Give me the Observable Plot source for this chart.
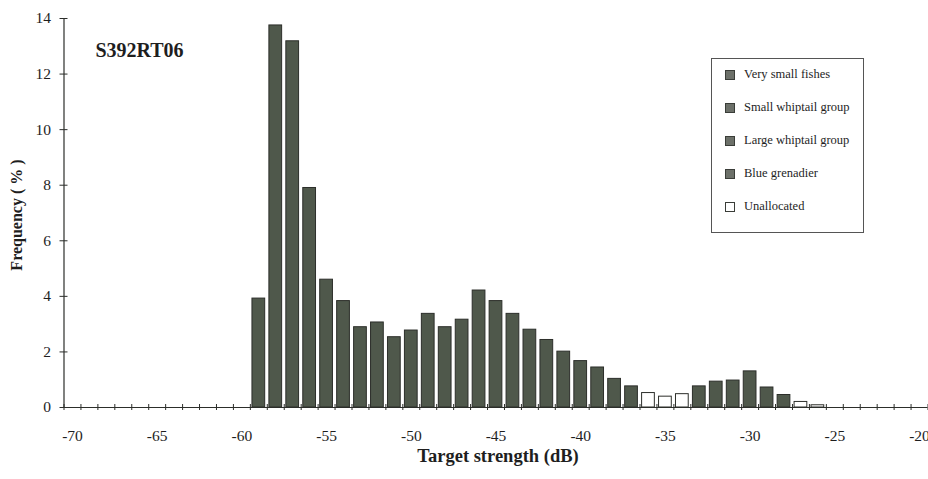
<!DOCTYPE html>
<html>
<head>
<meta charset="utf-8">
<script src="https://cdn.jsdelivr.net/npm/d3@7"></script>
<script src="https://cdn.jsdelivr.net/npm/@observablehq/plot@0.6"></script>
<style>
  html, body { margin: 0; padding: 0; background: #fff; }
  #chart { position: relative; width: 928px; height: 479px; overflow: hidden; }
  #legend {
    position: absolute; left: 711px; top: 58px; width: 153px; height: 175px;
    box-sizing: border-box; border: 1px solid #555; background: #fff;
    padding-top: 8px;
    font-family: "Liberation Serif", serif; font-size: 12.5px; color: #1e1e1e;
  }
  #legend .row { height: 33px; display: flex; align-items: flex-start; }
  #legend .sw { width: 10px; height: 10px; margin: 3px 9px 0 13px; box-sizing: border-box; border: 1px solid #3a3d38; }
</style>
</head>
<body>
<div id="chart"></div>
<script>
// Target-strength bins (dB, bin centres) and their frequency (%)
const targetStrength = [-59, -58, -57, -56, -55, -54, -53, -52, -51, -50, -49, -48, -47, -46, -45, -44, -43,
  -42, -41, -40, -39, -38, -37, -36, -35, -34, -33, -32, -31, -30, -29, -28, -27, -26];
const frequency = [3.92, 13.75, 13.18, 7.9, 4.6, 3.83, 2.89, 3.06, 2.53, 2.77, 3.37, 2.89, 3.16, 4.21, 3.83, 3.37, 2.8,
  2.43, 2.01, 1.67, 1.44, 1.03, 0.76, 0.52, 0.39, 0.48, 0.76, 0.93, 0.97, 1.3, 0.72, 0.45, 0.2, 0.08];
// Bins whose echoes were not allocated to a species group
const unallocatedBins = [-36, -35, -34, -27, -26];

const xDomain = [-70.5, -19.5];
const xTickLabels = [-70, -65, -60, -55, -50, -45, -40, -35, -30, -25, -20];
const yTickValues = [0, 2, 4, 6, 8, 10, 12, 14];
const binEdges = d3.range(xDomain[0], xDomain[1] + 0.5, 1);

const legendLabels = ["Very small fishes", "Small whiptail group", "Large whiptail group", "Blue grenadier", "Unallocated"];
const legendColors = ["#6c7069", "#6c7069", "#6c7069", "#6c7069", "#ffffff"];

const barFill = "#4f584b";
const inkColor = "#2c2e2a";

const bins = targetStrength.map((ts, i) => ({
  ts, freq: frequency[i], unallocated: unallocatedBins.includes(ts)
}));

const chart = Plot.plot({
  width: 928,
  height: 479,
  marginLeft: 63.5,
  marginRight: 0.5,
  marginTop: 18,
  marginBottom: 72,
  style: { fontFamily: "Liberation Serif, serif", fontSize: "15px", color: "#1e1e1e", background: "#fff" },
  x: { domain: xDomain, axis: null },
  y: { domain: [0, 14], axis: null },
  marks: [
    // bars
    Plot.rectY(bins, {
      x1: d => d.ts - 0.5, x2: d => d.ts + 0.5, y: "freq",
      insetLeft: 2.1, insetRight: 2.1,
      fill: d => d.unallocated ? "#fff" : barFill,
      stroke: inkColor, strokeWidth: 1
    }),
    // axis lines
    Plot.ruleY([0], { x1: xDomain[0], x2: xDomain[1], stroke: inkColor, strokeWidth: 1.2 }),
    Plot.ruleX([xDomain[0]], { y1: 0, y2: 14, stroke: inkColor, strokeWidth: 1.2 }),
    // crossing tick marks at bin edges and at y ticks
    Plot.ruleX(binEdges, { y1: 0, y2: 0, insetTop: 3, insetBottom: 3, stroke: inkColor, strokeWidth: 1 }),
    Plot.ruleY(yTickValues, { y: d => d, x1: xDomain[0], x2: xDomain[0], insetLeft: 4, insetRight: 4, stroke: inkColor, strokeWidth: 1 }),
    // tick labels
    Plot.axisX(xTickLabels, { label: null, tickSize: 0, tickPadding: 22, tickFormat: d => String(d), fontSize: 15.5 }),
    Plot.axisY(yTickValues, { label: null, tickSize: 0, tickPadding: 13, tickFormat: d => String(d), fontSize: 15.5 }),
    // axis titles and panel title
    Plot.text(["Target strength (dB)"], {
      frameAnchor: "bottom", textAnchor: "middle", dx: 2, dy: 54, fontWeight: "bold", fontSize: 18.5, fill: "#1e1e1e"
    }),
    Plot.text(["Frequency ( % )"], {
      frameAnchor: "left", textAnchor: "middle", rotate: -90, dx: -47, dy: 2, fontWeight: "bold", fontSize: 16, fill: "#1e1e1e"
    }),
    Plot.text(["S392RT06"], {
      frameAnchor: "top-left", textAnchor: "middle", lineAnchor: "middle",
      dx: 75.5, dy: 32.5, fontWeight: "bold", fontSize: 20, fill: "#1e1e1e"
    })
  ]
});

const host = document.getElementById("chart");
host.appendChild(chart);

// legend box
const legend = document.createElement("div");
legend.id = "legend";
legendLabels.forEach((label, i) => {
  const row = document.createElement("div");
  row.className = "row";
  const sw = document.createElement("span");
  sw.className = "sw";
  sw.style.background = legendColors[i];
  const tx = document.createElement("span");
  tx.textContent = label;
  row.appendChild(sw);
  row.appendChild(tx);
  legend.appendChild(row);
});
host.appendChild(legend);
</script>
</body>
</html>
